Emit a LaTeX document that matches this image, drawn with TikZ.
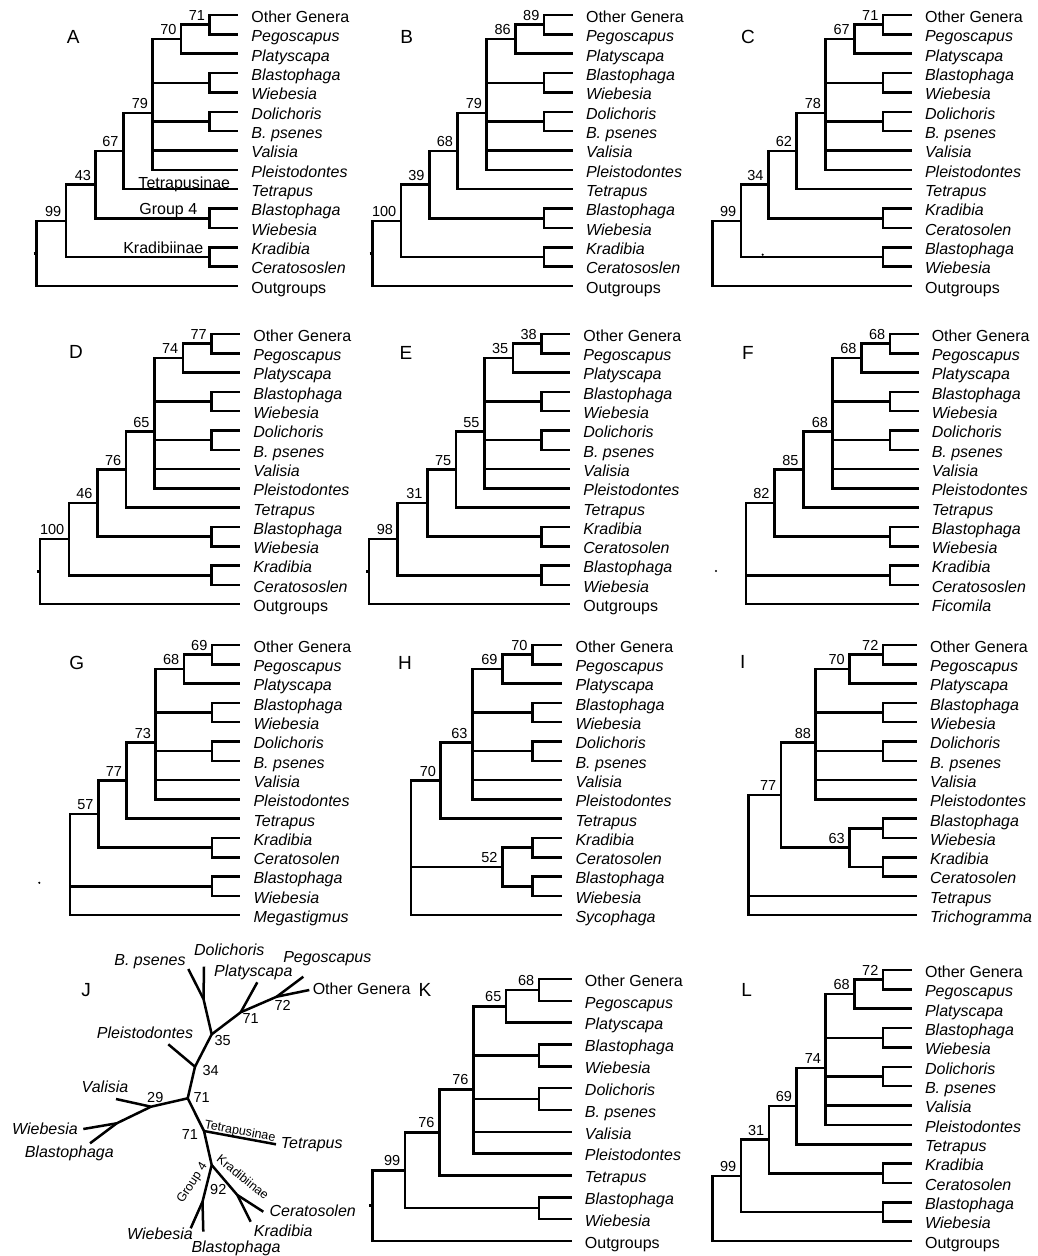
\documentclass[tikz,border=0pt]{standalone}
\usepackage{fontspec}
\setmainfont{Liberation Sans}

\newcommand{\figtop}[5]{%
  \node[taxon] (#1-og) at ({#2+3*#3},0) {\upshape Other Genera};
  \node[taxon] (#1-peg) at ({#2+3*#3},1) {Pegoscapus};
  \node[taxon] (#1-pla) at ({#2+3*#3},2) {Platyscapa};
  \node[taxon] (#1-bla) at ({#2+3*#3},3) {Blastophaga};
  \node[taxon] (#1-wie) at ({#2+3*#3},4) {Wiebesia};
  \node[taxon] (#1-dol) at ({#2+3*#3},5) {Dolichoris};
  \node[taxon] (#1-bps) at ({#2+3*#3},6) {B. psenes};
  \node[taxon] (#1-val) at ({#2+3*#3},7) {Valisia};
  \node[taxon] (#1-ple) at ({#2+3*#3},8) {Pleistodontes};
  \coordinate (#1-pog) at ({#2+2*#3},0.5);
  \coordinate (#1-pin) at ({#2+#3},1.25);
  \coordinate (#1-pbwa) at ({#2+2*#3},3.5);
  \coordinate (#1-pdb) at ({#2+2*#3},5.5);
  \coordinate (#1-poly) at (#2,5.05);
  \draw (#1-pog) |- (#1-og);
  \draw (#1-pog) |- (#1-peg);
  \draw (#1-pin) |- node[bs] (#1-b1) {#4} (#1-pog);
  \draw (#1-pin) |- (#1-pla);
  \draw (#1-pbwa) |- (#1-bla);
  \draw (#1-pbwa) |- (#1-wie);
  \draw (#1-pdb) |- (#1-dol);
  \draw (#1-pdb) |- (#1-bps);
  \draw (#1-poly) |- node[bs] (#1-b2) {#5} (#1-pin);
  \draw (#1-poly) |- (#1-pbwa);
  \draw (#1-poly) |- (#1-pdb);
  \draw (#1-poly) |- (#1-val);
  \draw (#1-poly) |- (#1-ple);
}

\begin{document}
\begin{tikzpicture}[x=1pt,y=-1pt,line width=2.5pt,
    taxon/.style={anchor=west,inner xsep=12pt,inner ysep=0pt,text height=14.6pt,text depth=0pt,font=\fontsize{16}{19}\selectfont\itshape},
    bs/.style={pos=1,anchor=south east,inner xsep=3.5pt,inner ysep=3pt,font=\fontsize{14.5}{17}\selectfont},
    grp/.style={anchor=base,inner sep=0pt,font=\fontsize{16}{19}\selectfont},
    panel/.style={font=\fontsize{19}{22}\selectfont},
    jtaxon/.style={inner sep=0pt,font=\fontsize{16}{19}\selectfont\itshape},
    jnum/.style={inner sep=0pt,font=\fontsize{14.5}{17}\selectfont},
    jgrp/.style={inner sep=0pt,font=\fontsize{12.5}{15}\selectfont}]
\useasboundingbox (0,0) rectangle (1038,1256);

\node[panel] (A-lab) at (73.3,37) {A};
\begin{scope}[yshift=-15pt,y=-19.36pt]
  \figtop{A}{152.7}{28.5}{71}{70}
  \node[taxon] (A-tet) at (238.2,9) {Tetrapus};
  \node[taxon] (A-bla2) at (238.2,10) {Blastophaga};
  \node[taxon] (A-wie2) at (238.2,11) {Wiebesia};
  \node[taxon] (A-kra) at (238.2,12) {Kradibia};
  \node[taxon] (A-cer) at (238.2,13) {Ceratososlen};
  \node[taxon] (A-out) at (238.2,14) {\upshape Outgroups};
  \coordinate (A-n67) at (123.3,7.025);
  \coordinate (A-pbw) at (209.7,10.5);
  \coordinate (A-n43) at (95.7,8.7625);
  \coordinate (A-pkc) at (209.7,12.5);
  \coordinate (A-n99) at (66,10.631);
  \coordinate (A-root) at (36.7,12.316);
  \coordinate (A-stub) at (33.7,12.316);
  \draw (A-n67) |- node[bs] (A-b3) {79} (A-poly);
  \draw (A-n67) |- (A-tet);
  \draw (A-pbw) |- (A-bla2);
  \draw (A-pbw) |- (A-wie2);
  \draw (A-n43) |- node[bs] (A-b4) {67} (A-n67);
  \draw (A-n43) |- (A-pbw);
  \draw (A-pkc) |- (A-kra);
  \draw (A-pkc) |- (A-cer);
  \draw (A-n99) |- node[bs] (A-b5) {43} (A-n43);
  \draw (A-n99) |- (A-pkc);
  \draw (A-root) |- node[bs] (A-b6) {99} (A-n99);
  \draw (A-root) |- (A-out);
  \draw (A-stub) -- (A-root);
  \node[grp,yshift=1pt] (A-g1) at (184.3,9) {Tetrapusinae};
  \node[grp,yshift=3.5pt] (A-g2) at (168.3,10.5) {Group 4};
  \node[grp,yshift=3.5pt] (A-g3) at (163.3,12.5) {Kradibiinae};
\end{scope}

\node[panel] (B-lab) at (406.7,37) {B};
\begin{scope}[yshift=-15pt,y=-19.36pt]
  \figtop{B}{486.7}{28.7}{89}{86}
  \node[taxon] (B-tet) at (572.8,9) {Tetrapus};
  \node[taxon] (B-bla2) at (572.8,10) {Blastophaga};
  \node[taxon] (B-wie2) at (572.8,11) {Wiebesia};
  \node[taxon] (B-kra) at (572.8,12) {Kradibia};
  \node[taxon] (B-cer) at (572.8,13) {Ceratososlen};
  \node[taxon] (B-out) at (572.8,14) {\upshape Outgroups};
  \coordinate (B-n68) at (457.7,7.025);
  \coordinate (B-pbw) at (544.1,10.5);
  \coordinate (B-n39) at (429.3,8.7625);
  \coordinate (B-pkc) at (544.1,12.5);
  \coordinate (B-n100) at (401,10.631);
  \coordinate (B-root) at (372.7,12.316);
  \coordinate (B-stub) at (369.7,12.316);
  \draw (B-n68) |- node[bs] (B-b3) {79} (B-poly);
  \draw (B-n68) |- (B-tet);
  \draw (B-pbw) |- (B-bla2);
  \draw (B-pbw) |- (B-wie2);
  \draw (B-n39) |- node[bs] (B-b4) {68} (B-n68);
  \draw (B-n39) |- (B-pbw);
  \draw (B-pkc) |- (B-kra);
  \draw (B-pkc) |- (B-cer);
  \draw (B-n100) |- node[bs] (B-b5) {39} (B-n39);
  \draw (B-n100) |- (B-pkc);
  \draw (B-root) |- node[bs] (B-b6) {100} (B-n100);
  \draw (B-root) |- (B-out);
  \draw (B-stub) -- (B-root);
\end{scope}

\node[panel] (C-lab) at (748,37) {C};
\begin{scope}[yshift=-15pt,y=-19.36pt]
  \figtop{C}{825.7}{28.7}{71}{67}
  \node[taxon] (C-tet) at (911.8,9) {Tetrapus};
  \node[taxon] (C-kra) at (911.8,10) {Kradibia};
  \node[taxon] (C-cer) at (911.8,11) {Ceratosolen};
  \node[taxon] (C-bla2) at (911.8,12) {Blastophaga};
  \node[taxon] (C-wie2) at (911.8,13) {Wiebesia};
  \node[taxon] (C-out) at (911.8,14) {\upshape Outgroups};
  \coordinate (C-n62) at (796.7,7.025);
  \coordinate (C-pkc) at (883.1,10.5);
  \coordinate (C-n34) at (768.3,8.7625);
  \coordinate (C-pbw) at (883.1,12.5);
  \coordinate (C-n99) at (741,10.631);
  \coordinate (C-root) at (712.7,12.316);
  \coordinate (C-dot) at (762.7,12.38);
  \draw (C-n62) |- node[bs] (C-b3) {78} (C-poly);
  \draw (C-n62) |- (C-tet);
  \draw (C-pkc) |- (C-kra);
  \draw (C-pkc) |- (C-cer);
  \draw (C-n34) |- node[bs] (C-b4) {62} (C-n62);
  \draw (C-n34) |- (C-pkc);
  \draw (C-pbw) |- (C-bla2);
  \draw (C-pbw) |- (C-wie2);
  \draw (C-n99) |- node[bs] (C-b5) {34} (C-n34);
  \draw (C-n99) |- (C-pbw);
  \draw (C-root) |- node[bs] (C-b6) {99} (C-n99);
  \draw (C-root) |- (C-out);
  \fill (C-dot) circle[radius=1.2pt];
\end{scope}

\node[panel] (D-lab) at (76,352) {D};
\begin{scope}[yshift=-334pt,y=-19.3pt]
  \figtop{D}{154.3}{28.6}{77}{74}
  \node[taxon] (D-tet) at (240.1,9) {Tetrapus};
  \node[taxon] (D-bla2) at (240.1,10) {Blastophaga};
  \node[taxon] (D-wie2) at (240.1,11) {Wiebesia};
  \node[taxon] (D-kra) at (240.1,12) {Kradibia};
  \node[taxon] (D-cer) at (240.1,13) {Ceratososlen};
  \node[taxon] (D-out) at (240.1,14) {\upshape Outgroups};
  \coordinate (D-n76) at (126,7.025);
  \coordinate (D-pbw) at (211.5,10.5);
  \coordinate (D-n46) at (97.3,8.7625);
  \coordinate (D-pkc) at (211.5,12.5);
  \coordinate (D-n100) at (69,10.631);
  \coordinate (D-root) at (40,12.316);
  \coordinate (D-stub) at (37,12.316);
  \draw (D-n76) |- node[bs] (D-b3) {65} (D-poly);
  \draw (D-n76) |- (D-tet);
  \draw (D-pbw) |- (D-bla2);
  \draw (D-pbw) |- (D-wie2);
  \draw (D-n46) |- node[bs] (D-b4) {76} (D-n76);
  \draw (D-n46) |- (D-pbw);
  \draw (D-pkc) |- (D-kra);
  \draw (D-pkc) |- (D-cer);
  \draw (D-n100) |- node[bs] (D-b5) {46} (D-n46);
  \draw (D-n100) |- (D-pkc);
  \draw (D-root) |- node[bs] (D-b6) {100} (D-n100);
  \draw (D-root) |- (D-out);
  \draw (D-stub) -- (D-root);
\end{scope}

\node[panel] (E-lab) at (406,353) {E};
\begin{scope}[yshift=-334pt,y=-19.3pt]
  \figtop{E}{484.3}{28.6}{38}{35}
  \node[taxon] (E-tet) at (570.1,9) {Tetrapus};
  \node[taxon] (E-kra) at (570.1,10) {Kradibia};
  \node[taxon] (E-cer) at (570.1,11) {Ceratosolen};
  \node[taxon] (E-bla2) at (570.1,12) {Blastophaga};
  \node[taxon] (E-wie2) at (570.1,13) {Wiebesia};
  \node[taxon] (E-out) at (570.1,14) {\upshape Outgroups};
  \coordinate (E-n75) at (456,7.025);
  \coordinate (E-pkc) at (541.5,10.5);
  \coordinate (E-n31) at (427.3,8.7625);
  \coordinate (E-pbw) at (541.5,12.5);
  \coordinate (E-n98) at (397.7,10.631);
  \coordinate (E-root) at (369,12.316);
  \coordinate (E-stub) at (366,12.316);
  \draw (E-n75) |- node[bs] (E-b3) {55} (E-poly);
  \draw (E-n75) |- (E-tet);
  \draw (E-pkc) |- (E-kra);
  \draw (E-pkc) |- (E-cer);
  \draw (E-n31) |- node[bs] (E-b4) {75} (E-n75);
  \draw (E-n31) |- (E-pkc);
  \draw (E-pbw) |- (E-bla2);
  \draw (E-pbw) |- (E-wie2);
  \draw (E-n98) |- node[bs] (E-b5) {31} (E-n31);
  \draw (E-n98) |- (E-pbw);
  \draw (E-root) |- node[bs] (E-b6) {98} (E-n98);
  \draw (E-root) |- (E-out);
  \draw (E-stub) -- (E-root);
\end{scope}

\node[panel] (F-lab) at (748,353) {F};
\begin{scope}[yshift=-334pt,y=-19.3pt]
  \figtop{F}{832.7}{28.6}{68}{68}
  \node[taxon] (F-tet) at (918.5,9) {Tetrapus};
  \node[taxon] (F-bla2) at (918.5,10) {Blastophaga};
  \node[taxon] (F-wie2) at (918.5,11) {Wiebesia};
  \node[taxon] (F-kra) at (918.5,12) {Kradibia};
  \node[taxon] (F-cer) at (918.5,13) {Ceratososlen};
  \node[taxon] (F-fic) at (918.5,14) {Ficomila};
  \coordinate (F-n85) at (803.3,7.025);
  \coordinate (F-pbw) at (889.9,10.5);
  \coordinate (F-n82) at (774.3,8.7625);
  \coordinate (F-pkc) at (889.9,12.5);
  \coordinate (F-root) at (746,12.5);
  \coordinate (F-dot) at (716,12.28);
  \draw (F-n85) |- node[bs] (F-b3) {68} (F-poly);
  \draw (F-n85) |- (F-tet);
  \draw (F-pbw) |- (F-bla2);
  \draw (F-pbw) |- (F-wie2);
  \draw (F-n82) |- node[bs] (F-b4) {85} (F-n85);
  \draw (F-n82) |- (F-pbw);
  \draw (F-pkc) |- (F-kra);
  \draw (F-pkc) |- (F-cer);
  \draw (F-root) |- node[bs] (F-b5) {82} (F-n82);
  \draw (F-root) -- (F-pkc);
  \draw (F-root) |- (F-fic);
  \fill (F-dot) circle[radius=1.2pt];
\end{scope}

\node[panel] (G-lab) at (76.7,663) {G};
\begin{scope}[yshift=-645pt,y=-19.3pt]
  \figtop{G}{155.7}{28.2}{69}{68}
  \node[taxon] (G-tet) at (240.3,9) {Tetrapus};
  \node[taxon] (G-kra) at (240.3,10) {Kradibia};
  \node[taxon] (G-cer) at (240.3,11) {Ceratosolen};
  \node[taxon] (G-bla2) at (240.3,12) {Blastophaga};
  \node[taxon] (G-wie2) at (240.3,13) {Wiebesia};
  \node[taxon] (G-meg) at (240.3,14) {Megastigmus};
  \coordinate (G-n77) at (126.7,7.025);
  \coordinate (G-pkc) at (212.1,10.5);
  \coordinate (G-n57) at (98.3,8.7625);
  \coordinate (G-pbw) at (212.1,12.5);
  \coordinate (G-root) at (70,12.5);
  \coordinate (G-dot) at (39.3,12.32);
  \draw (G-n77) |- node[bs] (G-b3) {73} (G-poly);
  \draw (G-n77) |- (G-tet);
  \draw (G-pkc) |- (G-kra);
  \draw (G-pkc) |- (G-cer);
  \draw (G-n57) |- node[bs] (G-b4) {77} (G-n77);
  \draw (G-n57) |- (G-pkc);
  \draw (G-pbw) |- (G-bla2);
  \draw (G-pbw) |- (G-wie2);
  \draw (G-root) |- node[bs] (G-b5) {57} (G-n57);
  \draw (G-root) -- (G-pbw);
  \draw (G-root) |- (G-meg);
  \fill (G-dot) circle[radius=1.2pt];
\end{scope}

\node[panel] (H-lab) at (405,663) {H};
\begin{scope}[yshift=-645pt,y=-19.3pt]
  \figtop{H}{472.3}{30}{70}{69}
  \node[taxon] (H-tet) at (562.3,9) {Tetrapus};
  \node[taxon] (H-kra) at (562.3,10) {Kradibia};
  \node[taxon] (H-cer) at (562.3,11) {Ceratosolen};
  \node[taxon] (H-bla2) at (562.3,12) {Blastophaga};
  \node[taxon] (H-wie2) at (562.3,13) {Wiebesia};
  \node[taxon] (H-syc) at (562.3,14) {Sycophaga};
  \coordinate (H-n70) at (440.7,7.025);
  \coordinate (H-pkc) at (532.3,10.5);
  \coordinate (H-pbw) at (532.3,12.5);
  \coordinate (H-n52) at (502.3,11.5);
  \coordinate (H-root) at (411,11.5);
  \draw (H-n70) |- node[bs] (H-b3) {63} (H-poly);
  \draw (H-n70) |- (H-tet);
  \draw (H-pkc) |- (H-kra);
  \draw (H-pkc) |- (H-cer);
  \draw (H-pbw) |- (H-bla2);
  \draw (H-pbw) |- (H-wie2);
  \draw (H-n52) |- (H-pkc);
  \draw (H-n52) |- (H-pbw);
  \draw (H-root) |- node[bs] (H-b4) {70} (H-n70);
  \draw (H-root) -- node[bs] (H-b5) {52} (H-n52);
  \draw (H-root) |- (H-syc);
\end{scope}

\node[panel] (I-lab) at (742.7,662) {I};
\begin{scope}[yshift=-645pt,y=-19.3pt]
  \figtop{I}{815.7}{33.7}{72}{70}
  \node[taxon] (I-bla2) at (916.8,9) {Blastophaga};
  \node[taxon] (I-wie2) at (916.8,10) {Wiebesia};
  \node[taxon] (I-kra) at (916.8,11) {Kradibia};
  \node[taxon] (I-cer) at (916.8,12) {Ceratosolen};
  \node[taxon] (I-tet) at (916.8,13) {Tetrapus};
  \node[taxon] (I-tri) at (916.8,14) {Trichogramma};
  \coordinate (I-pbw) at (883.1,9.5);
  \coordinate (I-pkc) at (883.1,11.5);
  \coordinate (I-n63) at (849.4,10.5);
  \coordinate (I-n77) at (781,7.775);
  \coordinate (I-root) at (748.3,13);
  \draw (I-pbw) |- (I-bla2);
  \draw (I-pbw) |- (I-wie2);
  \draw (I-pkc) |- (I-kra);
  \draw (I-pkc) |- (I-cer);
  \draw (I-n63) |- (I-pbw);
  \draw (I-n63) |- (I-pkc);
  \draw (I-n77) |- node[bs] (I-b3) {88} (I-poly);
  \draw (I-n77) |- node[bs] (I-b4) {63} (I-n63);
  \draw (I-root) |- node[bs] (I-b5) {77} (I-n77);
  \draw (I-root) -- (I-tet);
  \draw (I-root) |- (I-tri);
\end{scope}

\node[panel] (J-lab) at (86,990) {J};
\coordinate (J-c71) at (187.7,1098.3);
\coordinate (J-c34) at (195,1066.7);
\coordinate (J-c35) at (211.7,1034.3);
\coordinate (J-cdb) at (203.5,999);
\coordinate (J-c71b) at (240.7,1012.3);
\coordinate (J-c72) at (276.7,996.7);
\coordinate (J-c29) at (151,1106.7);
\coordinate (J-cwb) at (116.7,1123.3);
\coordinate (J-ct) at (204,1131);
\coordinate (J-cg) at (211.7,1165);
\coordinate (J-cg4) at (202.5,1201.7);
\coordinate (J-ck) at (237.3,1195);
\coordinate (J-tple) at (168.3,1044.3);
\coordinate (J-tbps) at (188.3,969);
\coordinate (J-tdol) at (204,966.7);
\coordinate (J-tpla) at (257.3,982.3);
\coordinate (J-tpeg) at (303.3,976.7);
\coordinate (J-tog) at (309.3,990);
\coordinate (J-tval) at (116,1099);
\coordinate (J-twie) at (83.3,1129);
\coordinate (J-tbla) at (90,1143.3);
\coordinate (J-ttet) at (276,1144.3);
\coordinate (J-twie2) at (190.7,1228.3);
\coordinate (J-tbla2) at (203.3,1231.7);
\coordinate (J-tcer) at (263.3,1211.7);
\coordinate (J-tkra) at (250.7,1221.7);
\begin{scope}[line join=round]
  \draw (J-c71) -- (J-c34) -- (J-c35) -- (J-cdb) -- (J-tdol);
  \draw (J-cdb) -- (J-tbps);
  \draw (J-c34) -- (J-tple);
  \draw (J-c35) -- (J-c71b) -- (J-c72) -- (J-tog);
  \draw (J-c71b) -- (J-tpla);
  \draw (J-c72) -- (J-tpeg);
  \draw (J-c71) -- (J-c29) -- (J-tval);
  \draw (J-c29) -- (J-cwb) -- (J-twie);
  \draw (J-cwb) -- (J-tbla);
  \draw (J-c71) -- (J-ct) -- (J-cg) -- (J-cg4) -- (J-tbla2);
  \draw (J-cg4) -- (J-twie2);
  \draw (J-ct) -- (J-ttet);
  \draw (J-cg) -- (J-ck) -- (J-tcer);
  \draw (J-ck) -- (J-tkra);
\end{scope}
\node[jtaxon] (J-bps) at (150,961.7) {B. psenes};
\node[jtaxon] (J-dol) at (229.3,950) {Dolichoris};
\node[jtaxon] (J-pla) at (253.3,972.3) {Platyscapa};
\node[jtaxon] (J-peg) at (327.3,958.3) {Pegoscapus};
\node[jtaxon] (J-og) at (361.7,989) {\upshape Other Genera};
\node[jtaxon] (J-ple) at (145,1032.3) {Pleistodontes};
\node[jtaxon] (J-val) at (105,1086.7) {Valisia};
\node[jtaxon] (J-wie) at (45,1129) {Wiebesia};
\node[jtaxon] (J-bla) at (69.3,1153.3) {Blastophaga};
\node[jtaxon] (J-tet) at (311.7,1145) {Tetrapus};
\node[jtaxon] (J-wie2) at (160,1233.3) {Wiebesia};
\node[jtaxon] (J-bla2) at (236,1248.3) {Blastophaga};
\node[jtaxon] (J-cer) at (312.7,1211) {Ceratosolen};
\node[jtaxon] (J-kra) at (283.3,1231) {Kradibia};
\node[jnum] (J-b35) at (222.7,1040) {35};
\node[jnum] (J-b34) at (210.7,1070) {34};
\node[jnum] (J-b71a) at (201.7,1097) {71};
\node[jnum] (J-b71b) at (250.7,1018.3) {71};
\node[jnum] (J-b72) at (282.7,1005) {72};
\node[jnum] (J-b29) at (155.3,1097.3) {29};
\node[jnum] (J-b71c) at (190,1134.3) {71};
\node[jnum] (J-b92) at (218.3,1189.5) {92};
\node[jgrp,rotate=-10.5] (J-gtet) at (240,1131.7) {Tetrapusinae};
\node[jgrp,rotate=-39] (J-gkra) at (243,1177) {Kradibiinae};
\node[jgrp,rotate=57] (J-ggr) at (192.5,1183.3) {Group 4};

\node[panel] (K-lab) at (425,990) {K};
\begin{scope}[yshift=-979pt,y=-21.83pt]
  \figtop{K}{473.3}{32.8}{68}{65}
  \node[taxon] (K-tet) at (571.7,9) {Tetrapus};
  \node[taxon] (K-bla2) at (571.7,10) {Blastophaga};
  \node[taxon] (K-wie2) at (571.7,11) {Wiebesia};
  \node[taxon] (K-out) at (571.7,12) {\upshape Outgroups};
  \coordinate (K-n76) at (439.3,7.025);
  \coordinate (K-pbw) at (538.9,10.5);
  \coordinate (K-n99) at (405,8.7625);
  \coordinate (K-root) at (372.3,10.381);
  \coordinate (K-stub) at (369.3,10.381);
  \draw (K-n76) |- node[bs] (K-b3) {76} (K-poly);
  \draw (K-n76) |- (K-tet);
  \draw (K-pbw) |- (K-bla2);
  \draw (K-pbw) |- (K-wie2);
  \draw (K-n99) |- node[bs] (K-b4) {76} (K-n76);
  \draw (K-n99) |- (K-pbw);
  \draw (K-root) |- node[bs] (K-b5) {99} (K-n99);
  \draw (K-root) |- (K-out);
  \draw (K-stub) -- (K-root);
\end{scope}

\node[panel] (L-lab) at (746.7,990) {L};
\begin{scope}[yshift=-970pt,y=-19.36pt]
  \figtop{L}{825.7}{28.7}{72}{68}
  \node[taxon] (L-tet) at (911.8,9) {Tetrapus};
  \node[taxon] (L-kra) at (911.8,10) {Kradibia};
  \node[taxon] (L-cer) at (911.8,11) {Ceratosolen};
  \node[taxon] (L-bla2) at (911.8,12) {Blastophaga};
  \node[taxon] (L-wie2) at (911.8,13) {Wiebesia};
  \node[taxon] (L-out) at (911.8,14) {\upshape Outgroups};
  \coordinate (L-n69) at (796.7,7.025);
  \coordinate (L-pkc) at (883.1,10.5);
  \coordinate (L-n31) at (769,8.7625);
  \coordinate (L-pbw) at (883.1,12.5);
  \coordinate (L-n99) at (741,10.631);
  \coordinate (L-root) at (712.7,12.316);
  \draw (L-n69) |- node[bs] (L-b3) {74} (L-poly);
  \draw (L-n69) |- (L-tet);
  \draw (L-pkc) |- (L-kra);
  \draw (L-pkc) |- (L-cer);
  \draw (L-n31) |- node[bs] (L-b4) {69} (L-n69);
  \draw (L-n31) |- (L-pkc);
  \draw (L-pbw) |- (L-bla2);
  \draw (L-pbw) |- (L-wie2);
  \draw (L-n99) |- node[bs] (L-b5) {31} (L-n31);
  \draw (L-n99) |- (L-pbw);
  \draw (L-root) |- node[bs] (L-b6) {99} (L-n99);
  \draw (L-root) |- (L-out);
\end{scope}
\end{tikzpicture}
\end{document}
